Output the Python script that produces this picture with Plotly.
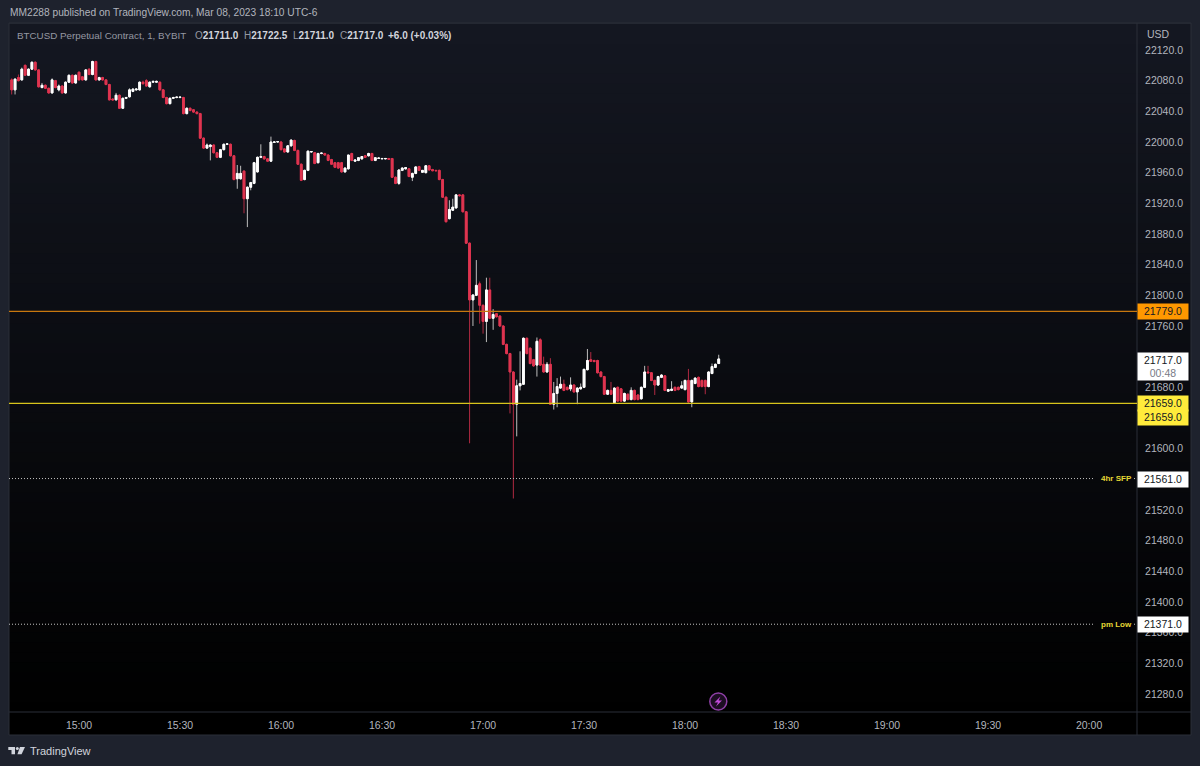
import pandas as pd
import plotly.graph_objects as go

# one minute candles, 14:40 to 18:10
opens = [
    22081, 22068, 22084, 22081, 22100, 22087, 22095, 22104, 22094, 22071,
    22074, 22070, 22064, 22080, 22068, 22073, 22064, 22078, 22087, 22077,
    22091, 22085, 22081, 22095, 22088, 22105, 22081, 22084, 22081, 22075,
    22056, 22055, 22061, 22044, 22057, 22059, 22066, 22068, 22068, 22078,
    22080, 22072, 22078, 22078, 22078, 22068, 22058, 22050, 22057, 22058,
    22058, 22058, 22037, 22044, 22042, 22039, 22037, 22005, 21992, 21994,
    21996, 21986, 21980, 21990, 21997, 21997, 21982, 21952, 21952, 21962,
    21926, 21941, 21946, 21961, 21980, 21981, 21978, 21975, 21999.5, 22000,
    22000, 21991, 21987, 21995, 22002, 21989, 21971, 21951, 21963, 21987,
    21986, 21973, 21985, 21985, 21983, 21977, 21973, 21973, 21973, 21961,
    21965, 21985, 21975, 21976, 21978, 21982, 21982, 21985, 21976, 21978.5,
    21978, 21978, 21978.5, 21978.5, 21954, 21946, 21963, 21965, 21965, 21954,
    21959, 21968, 21960.5, 21960, 21969, 21964, 21963, 21963, 21951, 21928,
    21900, 21911, 21914, 21931, 21931, 21909, 21868, 21794, 21800, 21815,
    21787, 21766, 21807, 21770, 21776, 21773, 21760, 21736, 21724, 21700,
    21658, 21682, 21684, 21744, 21731, 21716, 21709, 21742, 21710, 21700,
    21710, 21658, 21672, 21679, 21684, 21680, 21678, 21683, 21674, 21678,
    21680, 21703, 21716, 21715, 21715, 21700, 21694, 21671, 21676, 21660,
    21680, 21678, 21662, 21671, 21664, 21676, 21670, 21665, 21680, 21700,
    21699, 21689, 21683, 21693, 21695, 21675, 21676, 21680, 21680, 21679,
    21677, 21689, 21661, 21685, 21693, 21689, 21689, 21681, 21698, 21706,
    21711,
]
highs = [
    22083, 22083, 22088, 22097, 22101, 22096, 22105, 22105, 22095, 22077,
    22075, 22071, 22083, 22081, 22075, 22074, 22079, 22088, 22088, 22088,
    22092, 22086, 22095, 22096, 22106, 22106, 22085, 22085, 22082, 22076,
    22057, 22064, 22062, 22058, 22059, 22070, 22070, 22070, 22079, 22080,
    22082, 22079, 22080, 22080, 22079, 22069, 22059, 22058, 22059, 22059,
    22059, 22059, 22045, 22045, 22043, 22040, 22038, 22006, 21998, 21997,
    21997, 21987, 21991, 21998, 21998, 21998, 21983, 21970, 21969, 21963,
    21942, 21948, 21974, 21981, 21997, 21982, 21979, 22007, 22001, 22001,
    22001, 21992, 21996, 22003, 22003, 21990, 21972, 21964, 21989, 21988,
    21987, 21986, 21986, 21986, 21984, 21978, 21974, 21974, 21974, 21967,
    21983, 21986, 21977, 21980, 21981.5, 21983, 21986, 21986, 21980, 21980,
    21979, 21979, 21979, 21979, 21955, 21964, 21967, 21967, 21966, 21960,
    21968, 21969, 21963.5, 21970, 21970, 21965, 21963.5, 21964, 21952, 21929,
    21924, 21926, 21932, 21932, 21932, 21910, 21869, 21801, 21846, 21818,
    21788, 21823, 21823, 21782, 21777, 21774, 21761, 21737, 21725, 21701,
    21690, 21727, 21745, 21745, 21732, 21717, 21745, 21744, 21720, 21713,
    21718, 21687, 21692, 21694, 21690, 21681, 21693, 21684, 21680, 21685,
    21704, 21730, 21726, 21716, 21716, 21701, 21695, 21677, 21687, 21680,
    21681, 21679, 21673, 21672, 21680, 21677, 21671, 21681, 21708, 21708,
    21700, 21690, 21695, 21697, 21696, 21678, 21688, 21681, 21681, 21688,
    21690, 21704, 21690, 21693, 21694, 21690, 21690, 21701, 21711, 21711,
    21722.5,
]
lows = [
    22062, 22062, 22079, 22080, 22086, 22086, 22094, 22093, 22071, 22070,
    22069, 22063, 22063, 22070, 22066, 22063, 22063, 22077, 22076, 22076,
    22080, 22080, 22080, 22087, 22087, 22080, 22080, 22080, 22074, 22054,
    22054, 22054, 22043, 22043, 22056, 22058, 22065, 22067, 22067, 22075,
    22072, 22071, 22077, 22077, 22067, 22057, 22049, 22049, 22056, 22057,
    22057, 22036, 22036, 22040, 22038, 22036, 22004, 21991, 21991, 21976,
    21985, 21979, 21979, 21989, 21996, 21981, 21950, 21939, 21951, 21907,
    21889, 21937, 21945, 21960, 21979, 21977, 21974, 21974, 21999, 21999.5,
    21989, 21986, 21986, 21994, 21988, 21970, 21949, 21950, 21962, 21986,
    21971, 21972, 21984, 21982, 21975, 21970, 21966, 21965, 21960, 21960,
    21964, 21975, 21974, 21975, 21977, 21979, 21981, 21975, 21975, 21978,
    21977.5, 21977.5, 21977, 21953, 21945, 21944, 21962, 21964, 21954, 21949,
    21958, 21962, 21960, 21959, 21963, 21962, 21962, 21950, 21927, 21895,
    21899, 21910, 21913, 21929, 21908, 21867, 21607, 21760, 21799, 21763,
    21750, 21739, 21769, 21755, 21771, 21759, 21735, 21723, 21646, 21535,
    21616, 21676, 21683, 21723, 21710, 21707, 21694, 21708, 21699, 21699,
    21657, 21651, 21654, 21678, 21675, 21676, 21675, 21673, 21658, 21677,
    21679, 21702, 21713, 21713, 21698, 21693, 21670, 21670, 21670, 21659,
    21661, 21661, 21661, 21663, 21663, 21663, 21663, 21664, 21679, 21698,
    21688, 21670, 21682, 21692, 21675, 21674, 21675, 21675, 21676, 21678,
    21676, 21660, 21654, 21684, 21680, 21680, 21671, 21680, 21697, 21705,
    21711,
]
closes = [
    22068, 22082, 22080, 22095, 22087, 22095, 22104, 22094, 22072, 22074,
    22070, 22064, 22081, 22071, 22073, 22064, 22078, 22087, 22077, 22087,
    22081, 22081, 22094, 22088, 22105, 22081, 22084, 22081, 22075, 22055,
    22055, 22061, 22044, 22057, 22058, 22068, 22069, 22069, 22078, 22076,
    22073, 22078, 22079, 22079, 22068, 22058, 22050, 22057, 22058, 22058.5,
    22058.5, 22037, 22044, 22041, 22039, 22037, 22005, 21992, 21996, 21996,
    21986, 21980, 21990, 21997, 21997.5, 21982, 21951, 21959, 21959, 21926,
    21941, 21947, 21973, 21980, 21981, 21978, 21975, 22000, 22000, 22000.5,
    21990, 21987, 21995, 22002.5, 21989, 21971, 21950, 21963, 21988, 21987.5,
    21972, 21985, 21985.5, 21983, 21976, 21971, 21967, 21966, 21961, 21966,
    21983, 21976, 21976.5, 21979.5, 21981, 21980, 21985, 21976, 21979.5, 21979,
    21978.5, 21978.5, 21977.5, 21954, 21946, 21963.5, 21966, 21966.5, 21955, 21959,
    21967.5, 21963, 21963, 21969, 21963.5, 21962.5, 21962.5, 21951, 21928, 21896,
    21912, 21915, 21931, 21930, 21909, 21868, 21794, 21800.5, 21813, 21787,
    21766, 21807, 21770, 21775, 21772, 21760, 21736, 21724, 21700, 21658,
    21682, 21685, 21744, 21724, 21711, 21708, 21740, 21709, 21700, 21710,
    21658, 21672, 21681, 21684, 21676, 21677, 21683, 21674, 21679, 21680,
    21703.5, 21715, 21714, 21713.5, 21699, 21694, 21671, 21676, 21671, 21679,
    21662, 21662, 21672, 21664, 21676, 21664, 21664, 21680, 21700, 21699,
    21689, 21683, 21694, 21696, 21676, 21677, 21677.5, 21676, 21677, 21682,
    21689, 21661, 21689, 21692, 21681, 21681, 21681, 21700, 21707, 21710,
    21717,
]

time_labels = ["15:00", "15:30", "16:00", "16:30", "17:00", "17:30", "18:00", "18:30", "19:00", "19:30", "20:00"]
# 21720, 21640 and 21560 sit fully behind the price tags in the original
price_ticks = [
    21280, 21320, 21360, 21400, 21440, 21480, 21520, 21600, 21680, 21760, 21800,
    21840, 21880, 21920, 21960, 22000, 22040, 22080, 22120,
]
orange_level = 21779
yellow_level = 21659
sfp_level = 21561
pm_low_level = 21371
last_close = 21717

day = "2023-03-08 "
times = pd.date_range(day + "14:40", periods=len(opens), freq="min")

W, H = 1200, 766
LEFT, RIGHT, TOP, BOTTOM = 9, 1137, 24, 712
TEXT = "#b2b5be"
FONT = "Liberation Sans"


def px(x):
    return (x - LEFT) / (RIGHT - LEFT)


def py(y):
    return (BOTTOM - y) / (BOTTOM - TOP)


def poly(points):
    return "M" + " L".join(f"{px(x):.5f},{py(y):.5f}" for x, y in points) + " Z"


def label(x, y, text, size=10, color=TEXT, anchor="left", **kw):
    fig.add_annotation(x=px(x), y=py(y), xref="paper", yref="paper", text=text, showarrow=False,
                       xanchor=anchor, yanchor="middle", font=dict(family=FONT, size=size, color=color), **kw)


def tag(price, text, fill, yshift=-0.5, height=14.5):
    fig.add_annotation(x=px(RIGHT), y=price, xref="paper", yref="y", text=text, showarrow=False,
                       xanchor="left", yanchor="middle", yshift=yshift, width=50, height=height,
                       bgcolor=fill, borderpad=0, align="center",
                       font=dict(family=FONT, size=10.5, color="#131722"))


fig = go.Figure()

# wicks are dimmer than the bodies, so the bodies get their own trace on top
fig.add_trace(go.Candlestick(
    x=times, open=opens, high=highs, low=lows, close=closes,
    increasing=dict(line=dict(color="#bdbdbd", width=1), fillcolor="#ffffff"),
    decreasing=dict(line=dict(color="#b02a42", width=1), fillcolor="#e0364f"),
    hoverinfo="skip",
))
fig.add_trace(go.Candlestick(
    x=times, open=opens, close=closes,
    high=[max(o, c) for o, c in zip(opens, closes)],
    low=[min(o, c) for o, c in zip(opens, closes)],
    increasing=dict(line=dict(color="#ffffff", width=1), fillcolor="#ffffff"),
    decreasing=dict(line=dict(color="#de3450", width=1), fillcolor="#e0364f"),
    hoverinfo="skip",
))

# tradingview background gradient, painted top down
steps = 70
for i in range(steps):
    t = i / (steps - 1)
    c = [round(v * (1 - t)) for v in (20, 23, 33)]
    fig.add_shape(type="rect", xref="paper", yref="paper", layer="below", line_width=0,
                  x0=px(LEFT), x1=px(1191), y0=py(TOP + (BOTTOM - TOP) * t), y1=py(735),
                  fillcolor=f"rgb({c[0]},{c[1]},{c[2]})")

# frame and axis separators
border = dict(color="#2a2e39", width=1)
fig.add_shape(type="rect", xref="paper", yref="paper", x0=px(9), x1=px(1191), y0=py(23), y1=py(735), line=border)
fig.add_shape(type="line", xref="paper", yref="paper", x0=px(RIGHT), x1=px(RIGHT), y0=py(23), y1=py(735), line=border)
fig.add_shape(type="line", xref="paper", yref="paper", x0=px(9), x1=px(1191), y0=py(BOTTOM), y1=py(BOTTOM), line=border)

# horizontal levels
fig.add_shape(type="line", xref="paper", yref="y", x0=0, x1=1, y0=orange_level, y1=orange_level,
              line=dict(color="#c8780f", width=1.2))
fig.add_shape(type="line", xref="paper", yref="y", x0=0, x1=1, y0=yellow_level, y1=yellow_level,
              line=dict(color="#d8c41c", width=1.2))
for level in (sfp_level, pm_low_level):
    for a, b in ((LEFT, 1095), (1134, RIGHT)):
        fig.add_shape(type="line", xref="paper", yref="y", x0=px(a), x1=px(b), y0=level, y1=level,
                      line=dict(color="#c4c4c4", width=1, dash="1px,2px"))
    fig.add_annotation(x=px(1116.5), y=level, xref="paper", yref="y", text=f"<b>{'4hr SFP' if level == sfp_level else 'pm Low'}</b>",
                       showarrow=False, xanchor="center", yanchor="middle",
                       font=dict(family=FONT, size=8, color="#e6d835"))

# price tags
tag(orange_level, f"{orange_level}.0", "#ff9800")
tag(last_close, f"{last_close}.0<br><span style='color:#787b86'>00:48</span>", "#ffffff", yshift=-7.5, height=27)
tag(yellow_level, f"{yellow_level}.0", "#ffeb3b")
tag(yellow_level, f"{yellow_level}.0", "#ffeb3b", yshift=-14.5)
tag(sfp_level, f"{sfp_level}.0", "#ffffff")
tag(pm_low_level, f"{pm_low_level}.0", "#ffffff")

# header texts
label(8, 12.5, "MM2288 published on TradingView.com, Mar 08, 2023 18:10 UTC-6", size=10.2)
label(15, 35.5, "BTCUSD Perpetual Contract, 1, BYBIT", size=9.8, color="#9598a1")
for x, head, value in ((192.5, "O", "21711.0"), (241.5, "H", "21722.5"), (290.5, "L", "21711.0"), (338, "C", "21717.0")):
    label(x, 35.5, f"{head}<b><span style='color:#d1d4dc'>{value}</span></b>", size=10, color="#9598a1")
label(386, 35.5, "<b>+6.0 (+0.03%)</b>", size=10, color="#d1d4dc")
label(1145, 34.5, "USD", size=10.5)

# tradingview logo, bottom left
logo = "#d1d4dc"
fig.add_shape(type="path", xref="paper", yref="paper", line_width=0, fillcolor=logo,
              path=poly([(8.3, 747), (15, 747), (15, 754.3), (11.5, 754.3), (11.5, 750), (8.3, 750)]))
fig.add_shape(type="circle", xref="paper", yref="paper", line_width=0, fillcolor=logo,
              x0=px(15.8), x1=px(18.8), y0=py(750), y1=py(747))
fig.add_shape(type="path", xref="paper", yref="paper", line_width=0, fillcolor=logo,
              path=poly([(20, 747), (25, 747), (21.6, 754.3), (17.4, 754.3)]))
label(28, 751, "TradingView", size=11, color=logo)

# lightning badge
fig.add_shape(type="circle", xref="paper", yref="paper", fillcolor="#1c0d22", line=dict(color="#8e3fa6", width=1.5),
              x0=px(709.8), x1=px(726.8), y0=py(710), y1=py(693))
fig.add_shape(type="path", xref="paper", yref="paper", line_width=0, fillcolor="#c04bd8",
              path=poly([(720.5, 696.5), (714.5, 702.5), (718, 702.5), (716, 706.5), (722, 700.5), (718.5, 700.5)]))

fig.update_layout(
    width=W,
    height=H,
    margin=dict(l=LEFT, r=W - RIGHT, t=TOP, b=H - BOTTOM, pad=0),
    paper_bgcolor="#1e222d",
    plot_bgcolor="rgba(0,0,0,0)",
    showlegend=False,
    boxgap=0.25,
    font=dict(family=FONT, size=10.5, color=TEXT),
    xaxis=dict(
        type="date",
        range=[day + "14:39:12", day + "20:14:14"],
        rangeslider=dict(visible=False),
        tickvals=[day + t for t in time_labels],
        ticktext=time_labels,
        showgrid=False,
        zeroline=False,
        ticks="outside",
        ticklen=3,
        tickcolor="rgba(0,0,0,0)",
        tickfont=dict(family=FONT, size=10.5, color=TEXT),
    ),
    yaxis=dict(
        side="right",
        range=[21256.5, 22153.9],
        tickvals=price_ticks,
        tickformat=".1f",
        showgrid=False,
        zeroline=False,
        ticks="outside",
        ticklen=5,
        tickcolor="rgba(0,0,0,0)",
        tickfont=dict(family=FONT, size=10.5, color=TEXT),
    ),
)

# page body has a default margin that would push the chart off its frame
fig.write_html("out.html", config={"displayModeBar": False}, post_script="document.body.style.margin='0';")
